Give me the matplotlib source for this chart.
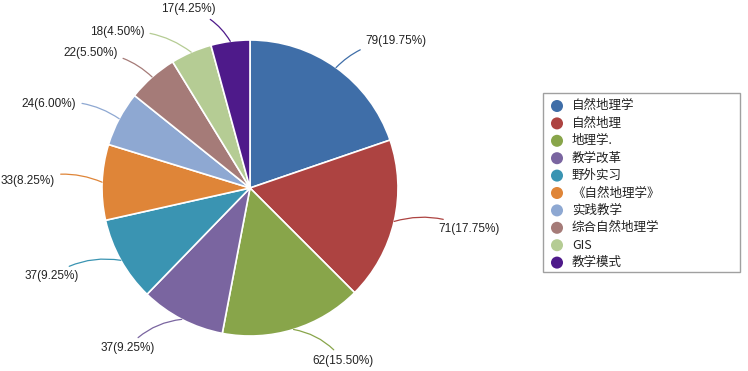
import numpy as np
import matplotlib
matplotlib.use("Agg")
import matplotlib.pyplot as plt
from matplotlib.patches import Rectangle

categories = ["自然地理学", "自然地理", "地理学.", "教学改革", "野外实习",
              "《自然地理学》", "实践教学", "综合自然地理学", "GIS", "教学模式"]
values = [79, 71, 62, 37, 37, 33, 24, 22, 18, 17]
colors = ["#3F6EA8", "#AD4341", "#88A54A", "#7A65A0", "#3A94B2",
          "#DF8538", "#8EA8D2", "#A57B78", "#B5CC94", "#4E1A8A"]

plt.rcParams['font.family'] = ['Liberation Sans', 'Noto Sans CJK SC', 'DejaVu Sans']

W, H = 748, 371
fig = plt.figure(figsize=(W / 100, H / 100), dpi=100)
ax = fig.add_axes([0, 0, 1, 1])
ax.set_xlim(0, W)
ax.set_ylim(0, H)
ax.axis('off')

cx, cy, R = 250, H - 188, 148
wedges, _ = ax.pie(values, colors=colors, startangle=90, counterclock=False,
                   center=(cx, cy), radius=R,
                   wedgeprops=dict(edgecolor='white', linewidth=1.2))
ax.set_xlim(0, W)
ax.set_ylim(0, H)
ax.set_aspect('equal')

# label nudges (layout only, pixels) to avoid crowding at the top-left
nudges = {8: (-22, -10)}

total = sum(values)
cum = 0
for i, (v, c) in enumerate(zip(values, colors)):
    mid = (cum + v / 2) / total * 2 * np.pi
    cum += v
    sx, sy = np.sin(mid), np.cos(mid)
    ex, ey = cx + R * sx, cy + R * sy
    tx, ty = cx + 1.25 * R * sx, cy + 1.22 * R * sy
    ndx, ndy = nudges.get(i, (0, 0))
    tx += ndx
    ty += ndy
    right = sx >= 0
    label = f"{v}({v / total * 100:.2f}%)"
    ax.annotate(label, xy=(ex, ey), xytext=(tx + (8 if right else -10), ty),
                ha='left' if right else 'right', va='center', fontsize=8.5,
                color='#222222',
                arrowprops=dict(arrowstyle='-', color=c, lw=0.9,
                                shrinkA=2, shrinkB=0,
                                connectionstyle='arc3,rad=0.2' if right else 'arc3,rad=-0.2'))

# legend
lx0, ly0, lx1, ly1 = 543, 93, 740, 272
ax.add_patch(Rectangle((lx0, H - ly1), lx1 - lx0, ly1 - ly0, fill=False,
                       edgecolor='#A0A0A0', lw=1.0))
for i, (cat, c) in enumerate(zip(categories, colors)):
    y = H - (106 + i * 17.4)
    ax.scatter([557], [y], s=75, color=c, edgecolors='none')
    ax.text(572, y, cat, fontsize=9, va='center', ha='left', color='#222222',
            family=['Noto Sans CJK SC', 'Liberation Sans'])

fig.savefig("out.png", dpi=100)
